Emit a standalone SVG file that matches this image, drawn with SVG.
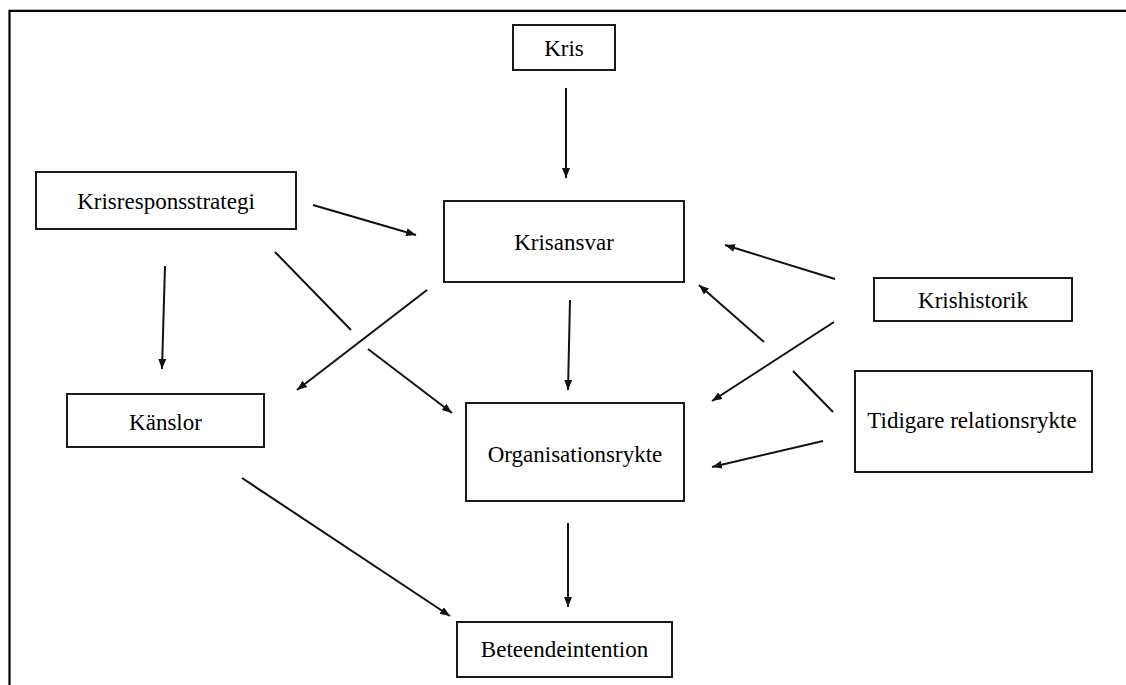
<svg xmlns="http://www.w3.org/2000/svg" width="1126" height="685" viewBox="0 0 1126 685">
<style>
.box{fill:#fff;stroke:#1a1a1a;stroke-width:2}
.lbl{font-family:"Liberation Serif","Times New Roman",serif;font-size:23px;fill:#000;text-anchor:middle}
.c{stroke:#111;stroke-width:2;fill:none}
.a{marker-end:url(#ah)}
</style>
<defs>
<marker id="ah" markerUnits="userSpaceOnUse" markerWidth="12" markerHeight="10" viewBox="0 0 12 10" refX="10" refY="5" orient="auto">
<path d="M0,1 L10,5 L0,9 Z" fill="#111"/>
</marker>
</defs>
<rect width="1126" height="685" fill="#fff"/>
<path d="M9.5,686 V10.8 H1127" fill="none" stroke="#000" stroke-width="2.2"/>
<g id="connectors">
<line class="c a" x1="566" y1="88" x2="566" y2="178"/>
<line class="c a" x1="313" y1="205" x2="416" y2="235"/>
<line class="c a" x1="165" y1="266" x2="162" y2="369"/>
<line class="c" x1="275" y1="252" x2="351" y2="330"/>
<line class="c a" x1="368" y1="349" x2="452" y2="413"/>
<line class="c a" x1="427" y1="290" x2="297" y2="390"/>
<line class="c a" x1="570" y1="300" x2="568" y2="390"/>
<line class="c a" x1="835" y1="279" x2="725" y2="245"/>
<line class="c a" x1="834" y1="322" x2="712" y2="401"/>
<line class="c" x1="833" y1="412" x2="793" y2="371"/>
<line class="c a" x1="764" y1="342" x2="699" y2="285"/>
<line class="c a" x1="823" y1="441" x2="712" y2="467"/>
<line class="c a" x1="568" y1="523" x2="568" y2="607"/>
<line class="c a" x1="242" y1="478" x2="450" y2="616"/>
</g>
<g id="kris"><rect class="box" x="513" y="25" width="102" height="45"/><text class="lbl" x="564" y="56">Kris</text></g>
<g id="krisresponsstrategi"><rect class="box" x="36" y="172" width="260" height="57"/><text class="lbl" x="166" y="209">Krisresponsstrategi</text></g>
<g id="krisansvar"><rect class="box" x="444" y="201" width="240" height="81"/><text class="lbl" x="564" y="250">Krisansvar</text></g>
<g id="krishistorik"><rect class="box" x="874" y="278" width="198" height="43"/><text class="lbl" x="973" y="308">Krishistorik</text></g>
<g id="kanslor"><rect class="box" x="67" y="394" width="197" height="53"/><text class="lbl" x="165.5" y="430">Känslor</text></g>
<g id="organisationsrykte"><rect class="box" x="466" y="403" width="218" height="98"/><text class="lbl" x="575" y="462">Organisationsrykte</text></g>
<g id="tidigare"><rect class="box" x="855" y="371" width="237" height="101"/><text class="lbl" x="972" y="428">Tidigare relationsrykte</text></g>
<g id="beteendeintention"><rect class="box" x="457" y="622" width="215" height="55"/><text class="lbl" x="564.5" y="657">Beteendeintention</text></g>
</svg>
